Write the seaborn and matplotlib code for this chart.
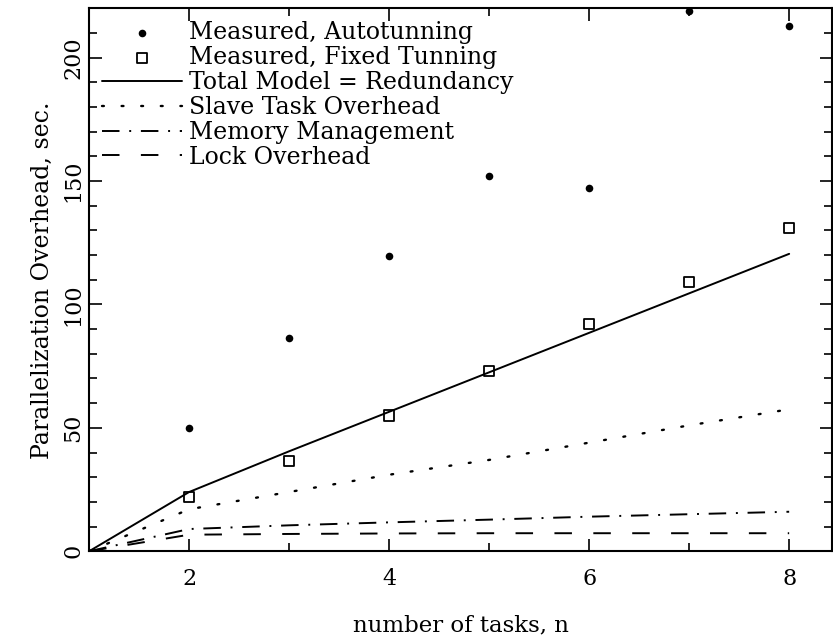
import numpy as np
import pandas as pd
import matplotlib
matplotlib.use("Agg")
import matplotlib.pyplot as plt
import seaborn as sns
from matplotlib.ticker import MultipleLocator

# values
tasks = [1, 2, 3, 4, 5, 6, 7, 8]
meas_x = [2, 3, 4, 5, 6, 7, 8]
autotune = [50, 86.5, 119.5, 152, 147, 219, 213]
fixed = [22, 36.5, 55, 73, 92, 109, 131]
total_model = [0, 24, 40.5, 56.5, 72.5, 88.5, 104.5, 120.5]
slave_task = [0, 17, 24, 31, 37, 44, 51, 57.5]
memory_mgmt = [0, 9, 10.5, 11.7, 12.8, 14, 15, 16]
lock_ovh = [0, 6.7, 7, 7.2, 7.3, 7.3, 7.3, 7.3]

sns.set_theme(style="ticks")
plt.rcParams["font.family"] = ["DejaVu Serif"]
plt.rcParams["text.color"] = "black"
plt.rcParams["axes.labelcolor"] = "black"

meas = pd.DataFrame({"n": meas_x, "auto": autotune, "fixed": fixed})
model = pd.DataFrame({"n": tasks, "total": total_model, "slave": slave_task,
                      "mem": memory_mgmt, "lock": lock_ovh})

fig = plt.figure(figsize=(8.33, 6.38), dpi=100)
ax = fig.add_axes([0.107, 0.136, 0.892, 0.851])

sns.scatterplot(data=meas, x="n", y="auto", ax=ax, color="black", s=30,
                marker="o", edgecolor="black", linewidth=0,
                label="Measured, Autotunning", clip_on=False, zorder=5)
sns.scatterplot(data=meas, x="n", y="fixed", ax=ax, facecolor="none",
                edgecolor="black", s=55, marker="s", linewidth=1.3,
                label="Measured, Fixed Tunning", zorder=5)
sns.lineplot(data=model, x="n", y="total", ax=ax, color="black", lw=1.4,
             label="Total Model = Redundancy")
sns.lineplot(data=model, x="n", y="slave", ax=ax, color="black", lw=1.7,
             linestyle=(0, (0.8, 7.5)), dash_capstyle="round",
             label="Slave Task Overhead")
sns.lineplot(data=model, x="n", y="mem", ax=ax, color="black", lw=1.4,
             linestyle=(0, (9, 5, 1, 5)), label="Memory Management")
sns.lineplot(data=model, x="n", y="lock", ax=ax, color="black", lw=1.4,
             linestyle=(0, (9, 11)), label="Lock Overhead")

ax.set_xlim(1, 8.43)
ax.set_ylim(0, 220)
ax.xaxis.set_major_locator(MultipleLocator(2))
ax.xaxis.set_minor_locator(MultipleLocator(1))
ax.yaxis.set_major_locator(MultipleLocator(50))
ax.yaxis.set_minor_locator(MultipleLocator(10))
ax.tick_params(which="both", direction="in", top=True, right=True,
               colors="black", labelsize=16, width=1.2)
ax.tick_params(which="major", length=9)
ax.tick_params(which="minor", length=6)
ax.tick_params(axis="x", pad=12)
for lbl in ax.get_yticklabels():
    lbl.set_rotation(90)
    lbl.set_va("center")
for sp in ax.spines.values():
    sp.set_linewidth(1.5)
    sp.set_color("black")

ax.set_xlabel("number of tasks, n", fontsize=16.5, labelpad=18)
ax.set_ylabel("Parallelization Overhead, sec.", fontsize=17, labelpad=6)

ax.legend(loc="upper left", bbox_to_anchor=(0.0, 1.0), frameon=False,
          fontsize=17, numpoints=1, handlelength=3.4, handletextpad=0.3,
          labelspacing=0.08, borderaxespad=0.25, borderpad=0.3)

fig.savefig("out.png", dpi=100)
